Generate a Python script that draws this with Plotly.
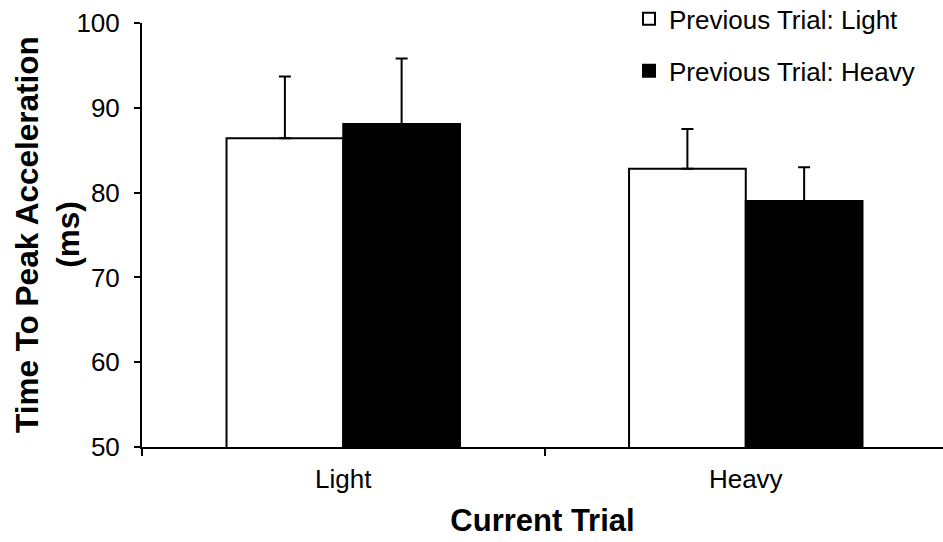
import plotly.graph_objects as go

categories = ["Light", "Heavy"]
prev_light = [86.4, 82.8]
prev_light_err = [7.3, 4.7]
prev_heavy = [88.1, 79.0]
prev_heavy_err = [7.7, 4.0]
y_ticks = [50, 60, 70, 80, 90, 100]

FONT = "Liberation Sans, Arial, sans-serif"
L, R, T, B = 142, 0, 23, 95
W, H = 943, 542

fig = go.Figure()
fig.add_trace(go.Bar(
    x=categories, y=prev_light, name="Previous Trial: Light",
    legendgroup="a",
    marker=dict(color="white", line=dict(color="black", width=2)),
    error_y=dict(type="data", array=prev_light_err, arrayminus=[0, 0],
                 symmetric=False, color="black", thickness=2, width=6),
))
fig.add_trace(go.Bar(
    x=categories, y=prev_heavy, name="Previous Trial: Heavy",
    legendgroup="b",
    marker=dict(color="black", line=dict(color="black", width=2)),
    error_y=dict(type="data", array=prev_heavy_err, arrayminus=[0, 0],
                 symmetric=False, color="black", thickness=2, width=6),
))

plot_w = W - L - R
fig.update_layout(
    width=W, height=H,
    margin=dict(l=L, r=R, t=T, b=B, autoexpand=False),
    paper_bgcolor="white", plot_bgcolor="white",
    barmode="group", bargap=0.42, bargroupgap=0,
    font=dict(family=FONT, color="black", size=26),
    showlegend=True,
    legend=dict(
        x=(629 - L) / plot_w, xanchor="left", y=1.065, yanchor="top",
        traceorder="grouped", tracegroupgap=15,
        font=dict(size=26, family=FONT), bgcolor="rgba(0,0,0,0)",
        itemwidth=30,
    ),
    xaxis=dict(
        range=[-0.5, 1.49], automargin=False,
        showline=True, linecolor="black", linewidth=2,
        ticks="outside", tickson="boundaries", ticklen=7, tickwidth=2, tickcolor="black",
        ticklabelstandoff=8,
        tickfont=dict(size=26, family=FONT),
        title=dict(text="<b>Current Trial</b>", font=dict(size=31, family=FONT), standoff=16),
        showgrid=False, zeroline=False,
    ),
    yaxis=dict(
        range=[50, 100], tickvals=y_ticks, automargin=False,
        showline=True, linecolor="black", linewidth=2,
        ticks="outside", ticklen=6, tickwidth=2, tickcolor="black",
        ticklabelstandoff=9,
        tickfont=dict(size=26, family=FONT),
        showgrid=False, zeroline=False,
    ),
    annotations=[dict(
        text="<b>Time To Peak Acceleration<br>(ms)</b>",
        xref="paper", yref="paper",
        x=(47 - L) / plot_w, y=0.5, xanchor="center", yanchor="middle",
        textangle=-90, showarrow=False,
        font=dict(size=31.5, family=FONT, color="black"),
    )],
)

fig.write_html("out.html", config={"displayModeBar": False},
               post_script="document.body.style.margin='0';")
